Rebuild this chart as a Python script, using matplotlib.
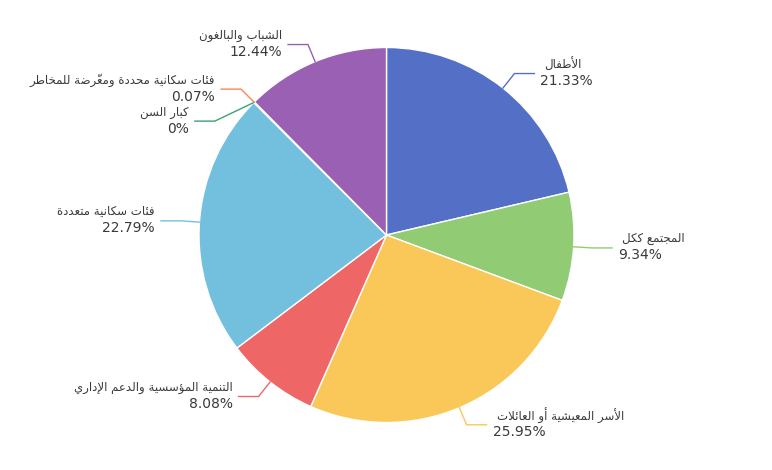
import math
import matplotlib
matplotlib.use("Agg")
import matplotlib.pyplot as plt

# ---------------- data ----------------
names = ["الأطفال", "المجتمع ككل", "الأسر المعيشية أو العائلات",
         "التنمية المؤسسية والدعم الإداري", "فئات سكانية متعددة", "كبار السن",
         "فئات سكانية محددة ومعرّضة للمخاطر", "الشباب والبالغون"]
values = [21.33, 9.34, 25.95, 8.08, 22.79, 0.0, 0.07, 12.44]
pct_labels = ["21.33%", "9.34%", "25.95%", "8.08%", "22.79%", "0%", "0.07%", "12.44%"]
colors = ["#5470c6", "#91cc75", "#fac858", "#ee6666", "#73c0de", "#3ba272",
          "#fc8452", "#9a60b4"]

# ------------- minimal Arabic shaping (presentation forms + visual order) -------------
_TABLE = {}
for base, start, k in [
    (0x0621, 0xFE80, 1), (0x0622, 0xFE81, 2), (0x0623, 0xFE83, 2), (0x0624, 0xFE85, 2),
    (0x0625, 0xFE87, 2), (0x0626, 0xFE89, 4), (0x0627, 0xFE8D, 2), (0x0628, 0xFE8F, 4),
    (0x0629, 0xFE93, 2), (0x062A, 0xFE95, 4), (0x062B, 0xFE99, 4), (0x062C, 0xFE9D, 4),
    (0x062D, 0xFEA1, 4), (0x062E, 0xFEA5, 4), (0x062F, 0xFEA9, 2), (0x0630, 0xFEAB, 2),
    (0x0631, 0xFEAD, 2), (0x0632, 0xFEAF, 2), (0x0633, 0xFEB1, 4), (0x0634, 0xFEB5, 4),
    (0x0635, 0xFEB9, 4), (0x0636, 0xFEBD, 4), (0x0637, 0xFEC1, 4), (0x0638, 0xFEC5, 4),
    (0x0639, 0xFEC9, 4), (0x063A, 0xFECD, 4), (0x0641, 0xFED1, 4), (0x0642, 0xFED5, 4),
    (0x0643, 0xFED9, 4), (0x0644, 0xFEDD, 4), (0x0645, 0xFEE1, 4), (0x0646, 0xFEE5, 4),
    (0x0647, 0xFEE9, 4), (0x0648, 0xFEED, 2), (0x0649, 0xFEEF, 2), (0x064A, 0xFEF1, 4)]:
    _TABLE[base] = (start, k)
_LAMALEF = {0x0622: 0xFEF5, 0x0623: 0xFEF7, 0x0625: 0xFEF9, 0x0627: 0xFEFB}


def _is_mark(ch):
    c = ord(ch)
    return 0x064B <= c <= 0x0652 or c == 0x0670


def shape_ar(text):
    clusters = []
    for ch in text:
        if _is_mark(ch) and clusters:
            clusters[-1][1].append(ch)
        else:
            clusters.append([ch, []])
    out = []
    prev_joins = False
    i, n = 0, len(clusters)
    while i < n:
        ch, marks = clusters[i]
        cp = ord(ch)
        if cp not in _TABLE:
            out.append((ch, marks))
            prev_joins = False
            i += 1
            continue
        start, k = _TABLE[cp]
        if cp == 0x0644 and i + 1 < n and ord(clusters[i + 1][0]) in _LAMALEF:
            g = _LAMALEF[ord(clusters[i + 1][0])] + (1 if prev_joins else 0)
            out.append((chr(g), marks + clusters[i + 1][1]))
            prev_joins = False
            i += 2
            continue
        nxt = clusters[i + 1][0] if i + 1 < n else None
        next_joins = (k == 4 and nxt is not None and ord(nxt) in _TABLE
                      and _TABLE[ord(nxt)][1] >= 2)
        right = prev_joins and k >= 2
        if right and next_joins:
            g = start + 3
        elif right:
            g = start + 1
        elif next_joins:
            g = start + 2
        else:
            g = start
        out.append((chr(g), marks))
        prev_joins = (k == 4)
        i += 1
    return "".join(g + "".join(m) for g, m in reversed(out))


# ---------------- figure ----------------
W, H = 772, 470
fig = plt.figure(figsize=(W / 100, H / 100), dpi=100)
ax = fig.add_axes([0, 0, 1, 1])
cx, cy, R = 386.5, 235.0, 187.5

ax.pie(values, colors=colors, startangle=90, counterclock=False,
       center=(cx, cy), radius=R,
       wedgeprops=dict(edgecolor="white", linewidth=1.0, antialiased=True))
ax.set_xlim(0, W)
ax.set_ylim(0, H)
ax.set_aspect("equal")
ax.axis("off")

# ---------------- labels (echarts-like outside labels) ----------------
L1, L2, GAP, MIN_SEP = 18.5, 20.0, 6.0, 32.0
total = sum(values)
items = []
cum = 0.0
for i, v in enumerate(values):
    theta = math.radians(360.0 * (cum + v / 2.0) / total)
    cum += v
    ex, ey = cx + R * math.sin(theta), cy + R * math.cos(theta)
    kx, ky = cx + (R + L1) * math.sin(theta), cy + (R + L1) * math.cos(theta)
    side = 1 if math.sin(theta) > 1e-9 else -1
    items.append(dict(i=i, ex=ex, ey=ey, kx=kx, ky=ky, side=side))

for side in (1, -1):
    grp = sorted([it for it in items if it["side"] == side], key=lambda d: -d["ky"])
    for a, b in zip(grp, grp[1:]):
        if a["ky"] - b["ky"] < MIN_SEP:
            b["ky"] = a["ky"] - MIN_SEP
            dy = b["ky"] - cy
            b["kx"] = cx + side * math.sqrt(max((R + L1) ** 2 - dy ** 2, 0.0))

text_color = "#3a3a3a"
for it in items:
    i, side = it["i"], it["side"]
    endx = it["kx"] + side * L2
    ax.plot([it["ex"], it["kx"], endx], [it["ey"], it["ky"], it["ky"]],
            color=colors[i], lw=1.0, solid_joinstyle="miter")
    tx = endx + side * GAP
    ha = "left" if side > 0 else "right"
    name_x = tx + (4.0 if side > 0 else 0.0)
    ax.text(name_x, it["ky"] + 9.0, shape_ar(names[i]), ha=ha, va="center",
            fontsize=8.5, color=text_color, family="DejaVu Sans")
    ax.text(tx, it["ky"] - 7.5, pct_labels[i], ha=ha, va="center",
            fontsize=10.0, color=text_color, family="DejaVu Sans")

fig.savefig("out.png", dpi=100, facecolor="white")
